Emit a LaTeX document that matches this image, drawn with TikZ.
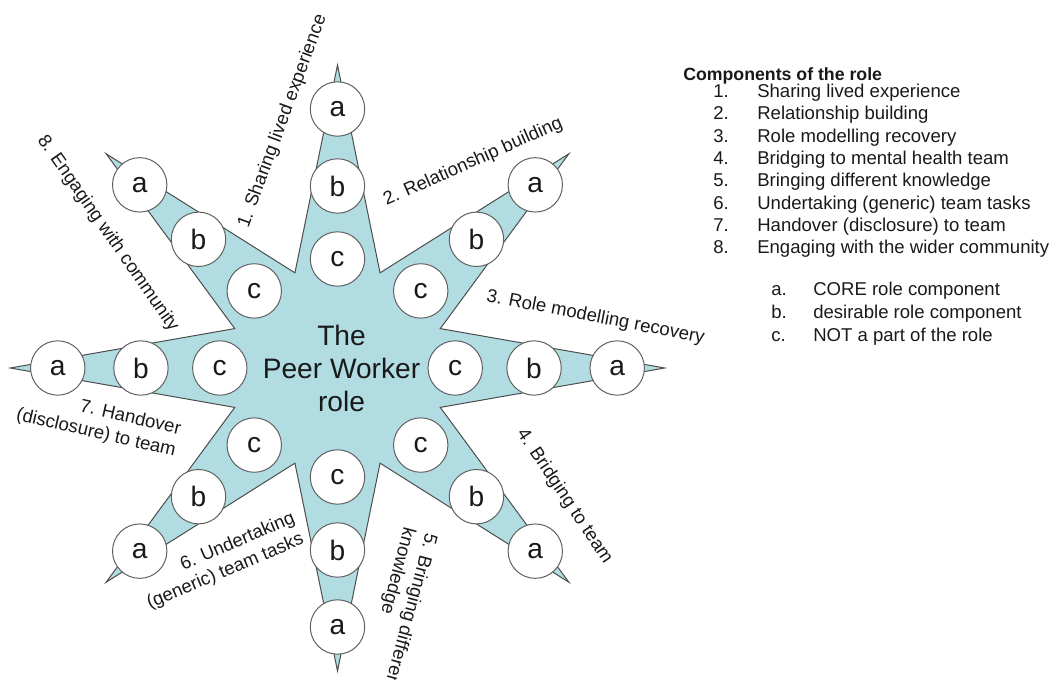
\documentclass[tikz,border=0pt]{standalone}
\usepackage{fontspec}
\setmainfont{Liberation Sans}
\usepackage{xcolor}
\usepackage{tikz}
\definecolor{starteal}{RGB}{176, 220, 226}
\definecolor{edgegray}{RGB}{75, 75, 75}
\definecolor{ringgray}{RGB}{95, 95, 95}
\definecolor{inkgray}{RGB}{25, 25, 25}

\begin{document}
\begin{tikzpicture}[
  rolecirc/.style={circle, draw=ringgray, line width=0.7pt, fill=white, minimum size=1.36cm, inner sep=0pt, text=inkgray, font=\fontsize{20}{24}\selectfont},
  armlabel/.style={inner sep=0pt, text=inkgray, font=\fontsize{13.2}{16}\selectfont},
  legitem/.style={anchor=base west, inner sep=0pt, text=inkgray, font=\fontsize{13.2}{16}\selectfont}
]
\useasboundingbox (-8.4375,-7.8) rectangle (17.9125,9.2);

% Star with eight arms
\begin{scope}[xscale=1.08]
\filldraw[fill=starteal, draw=edgegray, line width=0.7pt, line join=miter]
  (90:7.575) \foreach \k in {1,...,7} { -- ({112.5-45*\k}:2.575) -- ({90-45*\k}:7.575) }
  -- (112.5:2.575) -- cycle;

% Circles along each arm (c inner, a outer)
\foreach \k in {1,...,8} {
  \pgfmathsetmacro{\ang}{90-45*(\k-1)}
  \node[rolecirc] (c\k) at (\ang:2.725) {c};
  \node[rolecirc] (b\k) at (\ang:4.55) {b};
  \node[rolecirc] (a\k) at (\ang:6.475) {a};
}
\end{scope}

% Centre text
\node[align=center, text=inkgray, font=\fontsize{20}{23.5}\selectfont] (centre) at (0.1,0) {The\\Peer Worker\\role};

% Arm labels
\node[armlabel, rotate=69.8] (lab1) at (-1.37,6.165) {1. Sharing lived experience};
\node[armlabel, rotate=24] (lab2) at (3.39,5.15) {2. Relationship building};
\node[armlabel, rotate=-11] (lab3) at (6.45,1.26) {3. Role modelling recovery};
\node[armlabel, rotate=-56.2] (lab4) at (5.675,-3.21) {4. Bridging to team};
\node[armlabel, rotate=-105, align=left] (lab5) at (1.53,-6.035) {5. Bringing different\\knowledge};
\node[armlabel, rotate=23, align=right] (lab6) at (-2.91,-4.83) {6. Undertaking\\(generic) team tasks};
\node[armlabel, rotate=-13, align=right] (lab7) at (-5.975,-1.3625) {7. Handover\\(disclosure) to team};
\node[armlabel, rotate=-55.2] (lab8) at (-5.74,3.36) {8. Engaging with community};

% Legend
\node[legitem, font={\fontsize{12.6}{15}\selectfont\bfseries}] (legtitle) at (8.6375,7.175) {Components of the role};
\foreach \txt [count=\k] in {Sharing lived experience, Relationship building, Role modelling recovery,
    Bridging to mental health team, Bringing different knowledge, Undertaking (generic) team tasks,
    Handover (disclosure) to team, Engaging with the wider community} {
  \node[legitem] (num\k) at (9.3875, {6.7575-0.5575*(\k-1)}) {\k.};
  \node[legitem] (leg\k) at (10.4875, {6.7575-0.5575*(\k-1)}) {\txt};
}
\foreach \l/\txt [count=\k] in {a/CORE role component, b/desirable role component, c/NOT a part of the role} {
  \node[legitem] (key\l) at (10.8375, {1.8-0.575*(\k-1)}) {\l.};
  \node[legitem] (keytxt\l) at (11.8875, {1.8-0.575*(\k-1)}) {\txt};
}
\end{tikzpicture}
\end{document}
